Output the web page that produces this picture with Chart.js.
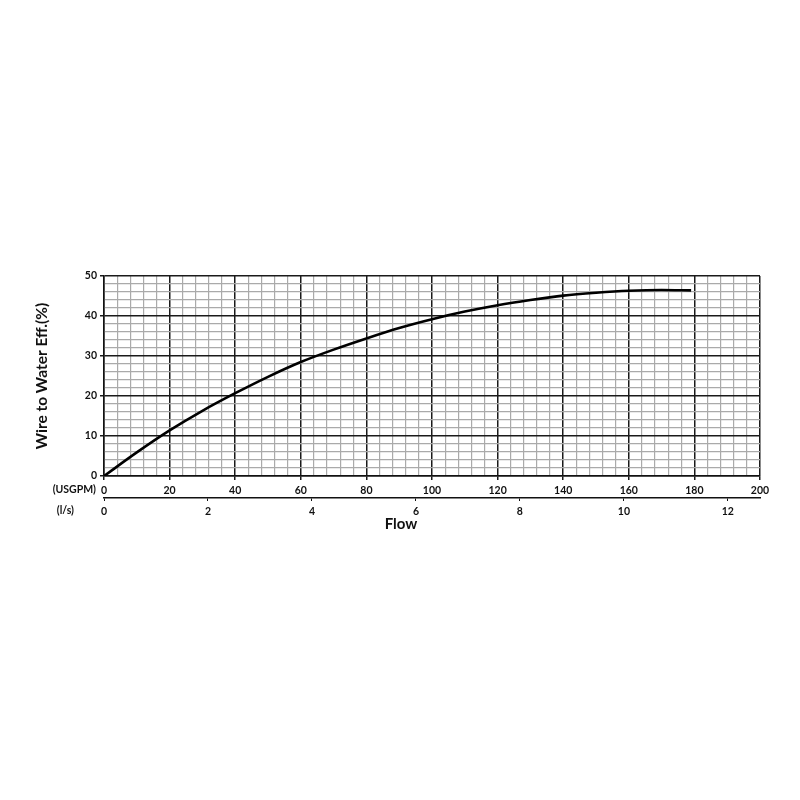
<!DOCTYPE html>
<html>
<head>
    <title>Wire to Water Efficiency</title>
    <script src="https://cdn.jsdelivr.net/npm/chart.js"></script>
    <style>
        body { margin: 0; background: #fff; }
        #wrap { width: 800px; height: 800px; }
    </style>
</head>
<body>
<div id="wrap"><canvas id="grafico"></canvas></div>

<script>
    // flujo en USGPM y eficiencia en %
    const flowUsgpm = [0, 10, 20, 30, 40, 50, 60, 70, 80, 90, 100, 110, 120, 130, 140, 150, 160, 170, 179];
    const efficiency = [0, 5.9, 11.4, 16.3, 20.7, 24.8, 28.5, 31.6, 34.4, 37.0, 39.2, 41.1, 42.7, 44.0, 45.1, 45.8, 46.3, 46.5, 46.4];

    const usgpmTicks = [0, 20, 40, 60, 80, 100, 120, 140, 160, 180, 200];
    const lpsTicks = [0, 2, 4, 6, 8, 10, 12];
    const effTicks = [0, 10, 20, 30, 40, 50];

    const USGPM_PER_LPS = 15.850323;
    const fuente = 'Lato, "Open Sans", sans-serif';

    const puntos = flowUsgpm.map((q, i) => ({ x: q, y: efficiency[i] }));

    const esMayor = (lista, v) => lista.some(t => Math.abs(t - v) < 1e-6);

    const etiquetas = {
        id: 'etiquetas',
        afterDraw(chart) {
            const ctx = chart.ctx;
            const x = chart.scales.x;
            const x2 = chart.scales.x2;
            ctx.save();
            ctx.fillStyle = '#111';
            ctx.font = 'bold 10.5px ' + fuente;
            ctx.textAlign = 'right';
            ctx.textBaseline = 'middle';
            ctx.fillText('(USGPM)', 96, x.top + 14);
            ctx.fillText('(l/s)', 74, x2.top + 13);
            ctx.font = 'bold 15px ' + fuente;
            ctx.textAlign = 'center';
            ctx.fillText('Flow', 401, x2.top + 26);
            ctx.restore();
        }
    };

    new Chart(document.getElementById('grafico').getContext('2d'), {
        type: 'scatter',
        data: {
            datasets: [{
                label: 'Wire to Water Eff.',
                data: puntos,
                showLine: true,
                borderColor: '#000',
                borderWidth: 2.6,
                pointRadius: 0,
                cubicInterpolationMode: 'monotone',
                xAxisID: 'x',
                yAxisID: 'y'
            }]
        },
        options: {
            responsive: true,
            maintainAspectRatio: false,
            animation: false,
            layout: { padding: { left: 33, right: 40, top: 276, bottom: 280 } },
            plugins: {
                legend: { display: false },
                tooltip: { enabled: false }
            },
            scales: {
                x: {
                    type: 'linear',
                    position: 'bottom',
                    min: 0,
                    max: 200,
                    afterFit: s => { s.height = 22; },
                    border: { color: '#111', width: 1.5 },
                    grid: {
                        color: c => esMayor(usgpmTicks, c.tick.value) ? '#1a1a1a' : '#aaaaaa',
                        lineWidth: c => esMayor(usgpmTicks, c.tick.value) ? 1.5 : 1.2,
                        tickColor: c => esMayor(usgpmTicks, c.tick.value) ? '#1a1a1a' : 'rgba(0,0,0,0)',
                        tickLength: 4
                    },
                    ticks: {
                        stepSize: 4,
                        autoSkip: false,
                        maxRotation: 0,
                        padding: 4,
                        color: '#111',
                        font: { family: fuente, size: 10.5, weight: 'bold' },
                        callback: v => esMayor(usgpmTicks, v) ? v : ''
                    }
                },
                x2: {
                    type: 'linear',
                    position: 'bottom',
                    min: 0,
                    max: 200 / USGPM_PER_LPS,
                    afterFit: s => { s.height = 22; },
                    border: { color: '#111', width: 1.5 },
                    grid: {
                        drawOnChartArea: false,
                        color: '#111',
                        tickLength: 3
                    },
                    ticks: {
                        stepSize: 2,
                        includeBounds: false,
                        autoSkip: false,
                        maxRotation: 0,
                        padding: 4,
                        color: '#111',
                        font: { family: fuente, size: 10.5, weight: 'bold' },
                        callback: v => esMayor(lpsTicks, v) ? v : ''
                    }
                },
                y: {
                    type: 'linear',
                    min: 0,
                    max: 50,
                    afterFit: s => { s.width = 71; },
                    border: { color: '#111', width: 1.5 },
                    grid: {
                        color: c => esMayor(effTicks, c.tick.value) ? '#1a1a1a' : '#aaaaaa',
                        lineWidth: c => esMayor(effTicks, c.tick.value) ? 1.5 : 1.2,
                        tickColor: c => esMayor(effTicks, c.tick.value) ? '#1a1a1a' : 'rgba(0,0,0,0)',
                        tickLength: 4
                    },
                    ticks: {
                        stepSize: 2,
                        autoSkip: false,
                        padding: 3,
                        color: '#111',
                        font: { family: fuente, size: 10.5, weight: 'bold' },
                        callback: v => esMayor(effTicks, v) ? v : ''
                    },
                    title: {
                        display: true,
                        text: 'Wire to Water Eff.(%)',
                        color: '#111',
                        padding: 0,
                        font: { family: fuente, size: 15.5, weight: 'bold', lineHeight: 1.2 }
                    }
                }
            }
        },
        plugins: [etiquetas]
    });
</script>
</body>
</html>
